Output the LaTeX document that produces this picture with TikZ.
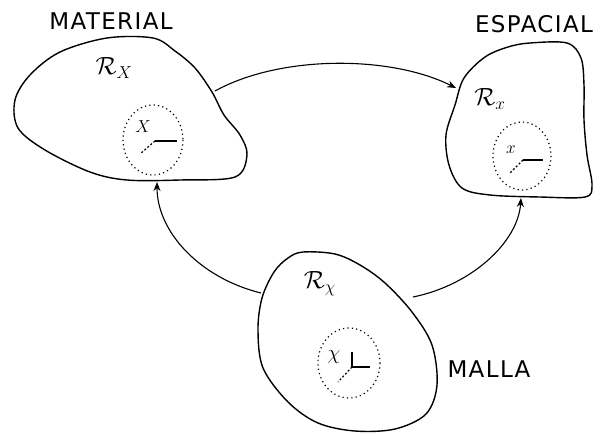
\documentclass[tikz,border=0pt]{standalone}
\usepackage{fontspec}
\setsansfont{DejaVu Sans}[LetterSpace=6]
\usetikzlibrary{arrows.meta}

\begin{document}
\begin{tikzpicture}[
  x=1pt, y=-1pt,
  blob/.style={draw=black, line width=1.4pt, line join=round},
  zone/.style={draw=black, line width=1.2pt, dash pattern=on 1.2pt off 3.2pt},
  axis/.style={draw=black, line width=1.2pt},
  axisd/.style={draw=black, line width=1.2pt, dash pattern=on 2pt off 2pt},
  ttl/.style={font=\sffamily\fontsize{23}{25}\selectfont, inner sep=0pt},
  reg/.style={font=\fontsize{27}{29}\selectfont, inner sep=0pt},
  pt/.style={font=\fontsize{18}{20}\selectfont, inner sep=0pt},
  flow/.style={-{Stealth[length=9pt,width=7pt]}, line width=1.1pt, draw=black},
]
\useasboundingbox (0,0) rectangle (597,432);

% ---------- regions ----------
\draw[blob] plot[smooth cycle, tension=0.55] coordinates {
  (107,38) (153,38) (175,51) (195,68) (212,92) (224,115) (240,135) (247,155)
  (235,177) (180,180) (127,180) (90,172) (45,150) (18,128) (15,100) (30,75) (60,52)};
\draw[blob] plot[smooth cycle, tension=0.55] coordinates {
  (530,43) (567,43) (581,58) (584,85) (584,120) (587,155) (592,185) (585,197)
  (540,197) (490,195) (462,188) (449,165) (446,135) (455,105) (464,78) (485,57) (508,47)};
\draw[blob] plot[smooth cycle, tension=0.55] coordinates {
  (303,252) (335,254) (360,265) (385,283) (412,312) (432,345) (437,385)
  (426,414) (395,429) (355,431) (318,423) (288,402) (263,368) (258,330)
  (262,298) (274,272) (288,258)};

% ---------- titles ----------
\node[ttl] (MAT) at (111,21) {MATERIAL};
\node[ttl] (ESP) at (534,24) {ESPACIAL};
\node[ttl] (MAL) at (489,369) {MALLA};

\node[reg] (RX) at (114,68) {$\mathcal{R}_X$};
\node[reg] (Rx) at (490,99) {$\mathcal{R}_x$};
\node[reg] (Rc) at (320,284) {$\mathcal{R}_\chi$};

% ---------- neighbourhoods ----------
\draw[zone] (153,140) ellipse [x radius=30, y radius=35];
\draw[zone] (522,156) ellipse [x radius=29, y radius=34];
\draw[zone] (349,363) ellipse [x radius=31, y radius=35];

% material point
\coordinate (OX) at (155,141);
\draw[axis] (OX) -- ++(22,0);
\draw[axisd] (OX) -- ++(-15,13);
\node[pt] (pX) at (143,127) {$X$};

% spatial point
\coordinate (Ox) at (523,160);
\draw[axis] (Ox) -- ++(20,0);
\draw[axisd] (Ox) -- ++(-14,14);
\node[pt] (px) at (511,150) {$x$};

% mesh point
\coordinate (Oc) at (352,367);
\draw[axis] (Oc) -- ++(0,-15);
\draw[axis] (Oc) -- ++(18,0);
\draw[axisd] (Oc) -- ++(-14,15);
\node[pt, font=\fontsize{21}{23}\selectfont] (pc) at (334,357) {$\chi$};

% ---------- maps ----------
\coordinate (matR) at (215,91);
\coordinate (espL) at (456,88);
\coordinate (matB) at (157,182);
\coordinate (espB) at (521,198);
\coordinate (malL) at (261,293);
\coordinate (malR) at (413,297);

\draw[flow] (matR) .. controls (280,55) and (390,55) .. (espL);
\draw[flow] (malL) .. controls (200,278) and (157,232) .. (matB);
\draw[flow] (malR) .. controls (472,285) and (518,242) .. (espB);

\end{tikzpicture}
\end{document}
